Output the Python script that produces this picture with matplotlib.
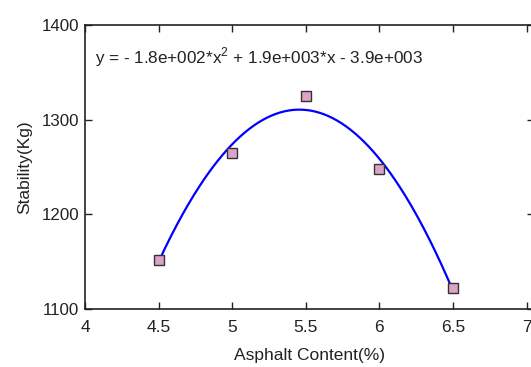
import numpy as np
import matplotlib
matplotlib.use("Agg")
import matplotlib.pyplot as plt

asphalt = [4.5, 5.0, 5.5, 6.0, 6.5]
stability = [1152, 1265, 1325, 1248, 1122]
x_ticks = [4, 4.5, 5, 5.5, 6, 6.5, 7]
x_ticklabels = ["4", "4.5", "5", "5.5", "6", "6.5", "7"]
y_ticks = [1100, 1200, 1300, 1400]
equation = r"y = - 1.8e+002*x$^2$ + 1.9e+003*x - 3.9e+003"

plt.rcParams['font.family'] = ['Liberation Sans', 'DejaVu Sans']
plt.rcParams['mathtext.fontset'] = 'custom'
plt.rcParams['mathtext.rm'] = 'Liberation Sans'

fig = plt.figure(figsize=(5.31, 3.67), dpi=100)
ax = fig.add_axes([85/531, 1-309/367, 449/531, 284/367])

coef = np.polyfit(asphalt, stability, 2)
xs = np.linspace(min(asphalt), max(asphalt), 200)
ax.plot(xs, np.polyval(coef, xs), color='#0000ff', lw=1.6, zorder=2)
ax.plot(asphalt, stability, 's', ms=7.5, mfc='#dba3c6', mec='#333333', mew=1.0, zorder=3)

ax.set_xlim(4, 7.05)
ax.set_ylim(1100, 1400)
ax.set_xticks(x_ticks)
ax.set_xticklabels(x_ticklabels)
ax.set_yticks(y_ticks)
ax.tick_params(direction='in', top=True, right=True, length=5, width=1, labelsize=12.5, colors='#222222')
ax.tick_params(axis='x', pad=8)
ax.tick_params(axis='y', pad=4, labelsize=12.2)
for s in ax.spines.values():
    s.set_linewidth(1.2)
    s.set_color('#222222')

ax.text(95/531, 1-57/367, equation, transform=fig.transFigure, fontsize=12.3, va='center', ha='left', color='#222222')
ax.set_xlabel("Asphalt Content(%)", fontsize=12.5, labelpad=9, color='#222222')
ax.set_ylabel("Stability(Kg)", fontsize=12.5, labelpad=7, color='#222222')

fig.savefig("out.png", dpi=100)
